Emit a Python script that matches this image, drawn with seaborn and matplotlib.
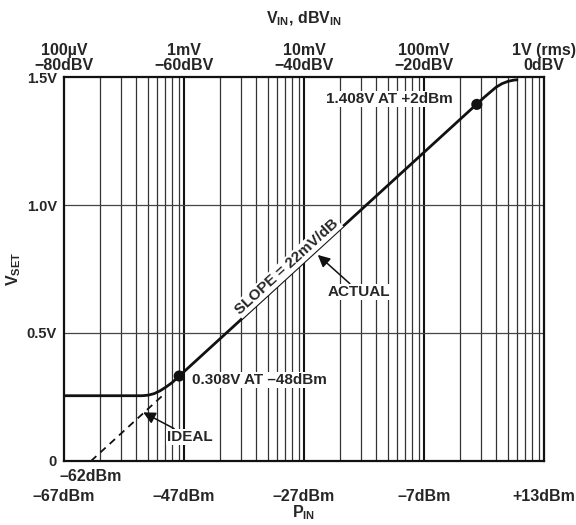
import numpy as np
import pandas as pd
import matplotlib
matplotlib.use("Agg")
import matplotlib.pyplot as plt
import seaborn as sns

# ---- data ----
curve_p = [-67, -54, -53, -52, -51, -50, -49, 3, 4, 5, 6, 7, 8, 8.5]
curve_v = [0.255, 0.255, 0.257, 0.263, 0.274, 0.289, 0.306, 1.42, 1.44, 1.46, 1.474, 1.483, 1.488, 1.489]
ideal_p = [-62.5, -50.6]
ideal_v = [0.0, 0.255]
dot_p = [-47.8, 1.8]
dot_v = [0.332, 1.393]

bottom_ticks = [-67, -47, -27, -7, 13]
bottom_labels = ["–67dBm", "–47dBm", "–27dBm", "–7dBm", "+13dBm"]
extra_tick = [-62.6]
extra_label = ["–62dBm"]
top_labels = ["100\u00b5V\n\u221280dBV", "1mV\n\u221260dBV", "10mV\n\u221240dBV",
              "100mV\n\u221220dBV", "1V (rms)\n0dBV"]
y_ticks = [0, 0.5, 1.0, 1.5]
y_labels = ["0", "0.5V", "1.0V", "1.5V"]

sns.set_theme(style="white")
plt.rcParams["font.family"] = ["Liberation Sans", "DejaVu Sans"]
plt.rcParams["font.weight"] = "bold"
plt.rcParams["mathtext.fontset"] = "custom"
plt.rcParams["mathtext.rm"] = "Liberation Sans:bold"
plt.rcParams["mathtext.it"] = "Liberation Sans:bold"
plt.rcParams["mathtext.bf"] = "Liberation Sans:bold"
plt.rcParams["mathtext.default"] = "rm"

fig = plt.figure(figsize=(5.76, 5.25), dpi=100)
ax = fig.add_axes([64 / 576, (525 - 461) / 525, 480 / 576, 384 / 525])

ax.set_xlim(-67, 13)
ax.set_ylim(0, 1.5)

# grid: log-spaced vertical lines within each 20 dB decade
for d in [-67, -47, -27, -7]:
    for k in range(2, 10):
        ax.axvline(d + 20 * np.log10(k), color="#333333", lw=0.9, zorder=1)
    if d != -67:
        ax.axvline(d, color="#111111", lw=1.5, zorder=1)
for yv in [0.5, 1.0]:
    ax.axhline(yv, color="#444444", lw=0.9, zorder=1)

df_curve = pd.DataFrame({"P": curve_p, "V": curve_v})
df_ideal = pd.DataFrame({"P": ideal_p, "V": ideal_v})
sns.lineplot(data=df_curve, x="P", y="V", ax=ax, color="#111111", lw=2.0,
             sort=False, estimator=None, zorder=3)
sns.lineplot(data=df_ideal, x="P", y="V", ax=ax, color="#111111", lw=1.3,
             sort=False, estimator=None, zorder=3, linestyle=(0, (4, 3)))
sns.scatterplot(x=dot_p, y=dot_v, ax=ax, color="#111111", s=64, zorder=4,
                edgecolor="none")

for s in ax.spines.values():
    s.set_visible(True)
    s.set_color("#111111")
    s.set_linewidth(1.6)

fs_x = 11.5
fs_y = 10.5
fs_ann = 11

ax.set_xticks(bottom_ticks, labels=bottom_labels)
ax.set_xticks(extra_tick, labels=extra_label, minor=True)
ax.tick_params(axis="x", which="major", length=0, pad=20, labelsize=fs_x)
ax.tick_params(axis="x", which="minor", length=0, pad=6, labelsize=fs_x)
ax.set_yticks(y_ticks, labels=y_labels)
ax.tick_params(axis="y", length=0, pad=5, labelsize=fs_y)
for lab in ax.get_xticklabels(which="both") + ax.get_yticklabels():
    lab.set_fontweight("bold")

ax.set_xlabel("P$_{IN}$", fontsize=fs_x, fontweight="bold", labelpad=0)
ax.set_ylabel("V$_{SET}$", fontsize=fs_x, fontweight="bold", labelpad=3)

sec = ax.secondary_xaxis("top")
sec.set_xticks(bottom_ticks, labels=top_labels)
sec.tick_params(length=0, pad=3, labelsize=fs_x)
for lab in sec.get_xticklabels():
    lab.set_fontweight("bold")
    lab.set_linespacing(1.0)
sec.set_xlabel("V$_{IN}$, dBV$_{IN}$", fontsize=fs_x, fontweight="bold", labelpad=14)
sec.spines["top"].set_visible(False)

box = dict(facecolor="white", edgecolor="none", pad=1.0)
ax.text(-2.17, 1.414, "1.408V AT +2dBm", ha="right", va="center",
        fontsize=fs_ann, fontweight="bold", bbox=box, zorder=5)
ax.text(-45.7, 0.316, "0.308V AT –48dBm", ha="left", va="center",
        fontsize=fs_ann, fontweight="bold", bbox=box, zorder=5)
ax.text(-29.8, 0.76, "SLOPE = 22mV/dB", ha="center", va="center", rotation=42.4,
        rotation_mode="anchor", fontsize=fs_ann, fontweight="bold", bbox=box, zorder=5)
ax.annotate("ACTUAL", xy=(-24.7, 0.805), xytext=(-17.8, 0.66), ha="center", va="center",
            fontsize=fs_ann, fontweight="bold", bbox=box, zorder=5,
            arrowprops=dict(arrowstyle="-|>", color="#111111", lw=1.1,
                            mutation_scale=18, shrinkA=0, shrinkB=0))
ax.annotate("IDEAL", xy=(-53.8, 0.19), xytext=(-46.0, 0.094), ha="center", va="center",
            fontsize=fs_ann, fontweight="bold", bbox=box, zorder=5,
            arrowprops=dict(arrowstyle="-|>", color="#111111", lw=1.1,
                            mutation_scale=18, shrinkA=0, shrinkB=0))

fig.savefig("out.png", dpi=100)
